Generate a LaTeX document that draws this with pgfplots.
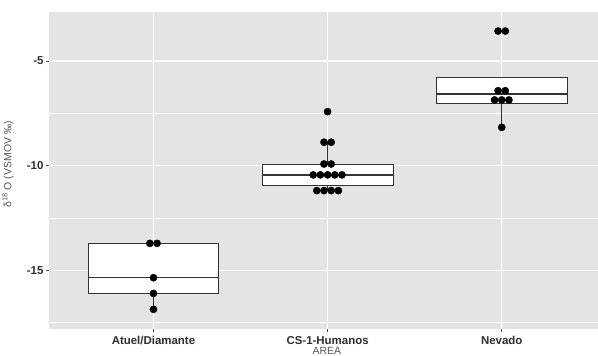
\documentclass[border=0pt]{standalone}
\usepackage{pgfplots}
\pgfplotsset{compat=1.18}
\usepgfplotslibrary{statistics}
\usepackage{fontspec}
\setmainfont{Liberation Sans}
\definecolor{panel}{HTML}{E4E4E4}
\definecolor{txt}{HTML}{2E2E2E}
\definecolor{lab}{HTML}{555555}
\definecolor{boxc}{HTML}{333333}

\pgfplotstableread{
x y
0.9793 -13.71
1.0207 -13.71
1.0 -15.35
1.0 -16.10
1.0 -16.86
}\atuel
\pgfplotstableread{
x y
2.0 -7.42
1.9793 -8.88
2.0207 -8.88
1.9793 -9.92
2.0207 -9.92
1.9174 -10.44
1.9587 -10.44
2.0 -10.44
2.0413 -10.44
2.0826 -10.44
1.9380 -11.19
1.9793 -11.19
2.0207 -11.19
2.0620 -11.19
}\cs
\pgfplotstableread{
x y
2.9793 -3.57
3.0207 -3.57
2.9793 -6.42
3.0207 -6.42
2.9587 -6.86
3.0 -6.86
3.0413 -6.86
3.0 -8.17
}\nevado

\begin{document}
\begin{tikzpicture}
\path[use as bounding box] (-49bp,-27bp) rectangle (549bp,329bp);
\begin{axis}[
  at={(0,0)}, anchor=south west,
  scale only axis, width=549bp, height=317bp,
  xmin=0.4, xmax=3.553, ymin=-17.80, ymax=-2.66,
  axis background/.style={fill=panel},
  axis line style={draw=none},
  xtick={1,2,3}, xticklabels={Atuel/Diamante, CS-1-Humanos, Nevado},
  ytick={-15,-10,-5}, yticklabels={-15,-10,-5},
  minor ytick={-17.5,-12.5,-7.5},
  xtick pos=bottom, ytick pos=left,
  grid=both,
  major grid style={white, line width=1.1bp},
  minor grid style={white, line width=0.5bp},
  tick align=outside, major tick length=3bp, minor tick length=0pt,
  tick style={gray!60!black, line width=0.5bp},
  ticklabel style={font=\bfseries\fontsize{11.5}{13}\selectfont, text=txt},
  yticklabel style={xshift=1bp},
  xticklabel style={yshift=-0.5bp},
  ylabel={δ\textsuperscript{18} O (VSMOV ‰)},
  ylabel style={at={(axis description cs:-0.075,0.52)}, anchor=center, font=\fontsize{10.5}{12}\selectfont, text=lab},
  xlabel={AREA},
  xlabel style={at={(axis description cs:0.506,-0.082)}, anchor=base, font=\fontsize{10.5}{12}\selectfont, text=lab},
  boxplot/draw direction=y,
  boxplot/every median/.style={line width=1.3bp},
  clip=false,
]
\addplot[boxplot prepared={draw position=1, lower whisker=-16.86, lower quartile=-16.10, median=-15.35, upper quartile=-13.71, upper whisker=-13.71, box extend=0.75, whisker extend=0}, fill=white, draw=boxc, line width=0.6bp, mark=none] coordinates {};
\addplot[boxplot prepared={draw position=2, lower whisker=-11.19, lower quartile=-10.95, median=-10.44, upper quartile=-9.92, upper whisker=-8.88, box extend=0.75, whisker extend=0}, fill=white, draw=boxc, line width=0.6bp, mark=none] coordinates {};
\addplot[boxplot prepared={draw position=3, lower whisker=-8.17, lower quartile=-7.01, median=-6.58, upper quartile=-5.78, upper whisker=-5.78, box extend=0.75, whisker extend=0}, fill=white, draw=boxc, line width=0.6bp, mark=none] coordinates {};
\addplot[only marks, mark=*, mark size=3.6bp, draw=black, fill=black] table[x=x,y=y] {\atuel};
\addplot[only marks, mark=*, mark size=3.6bp, draw=black, fill=black] table[x=x,y=y] {\cs};
\addplot[only marks, mark=*, mark size=3.6bp, draw=black, fill=black] table[x=x,y=y] {\nevado};
\end{axis}
\end{tikzpicture}
\end{document}
